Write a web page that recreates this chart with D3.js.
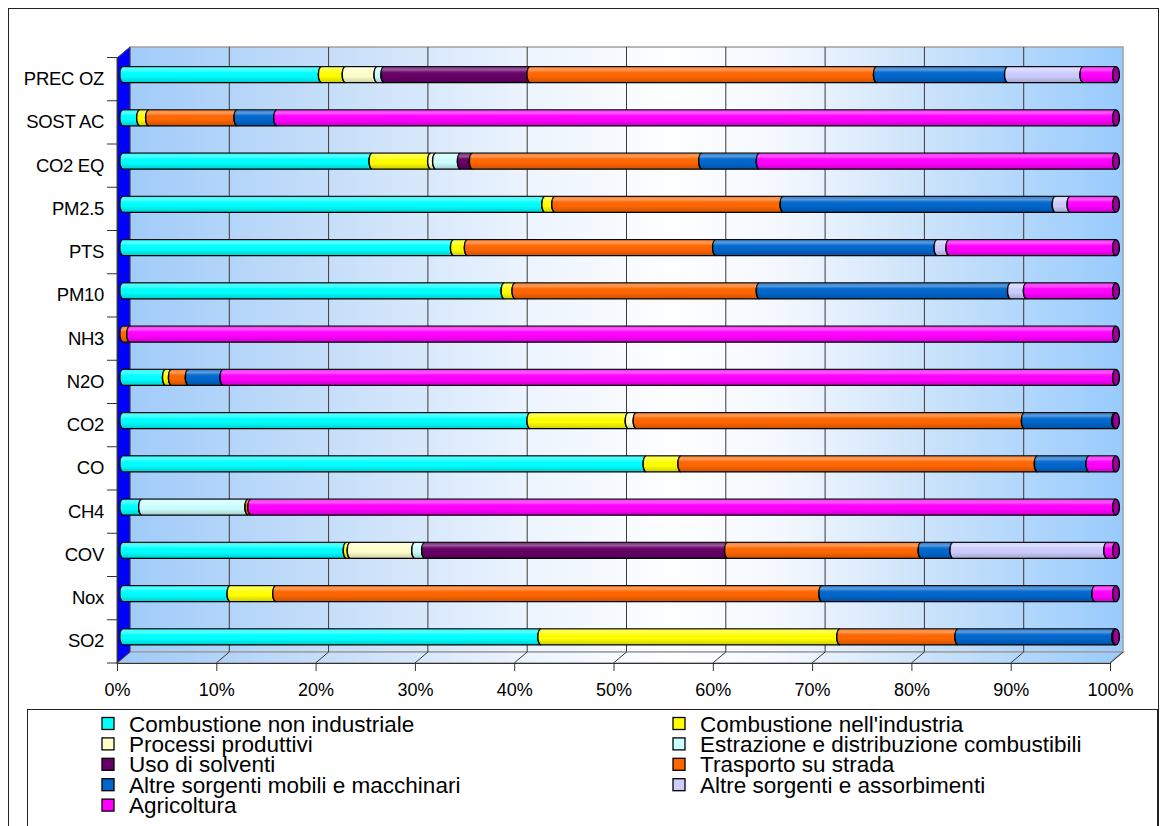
<!DOCTYPE html>
<html><head><meta charset="utf-8">
<script src="https://cdn.jsdelivr.net/npm/d3@7"></script>
<style>body{margin:0;background:#fff} text{font-family:"Liberation Sans",Arial,Helvetica,sans-serif}</style>
</head><body><svg id="c" width="1167" height="826"></svg>
<script>
const categories = ["PREC OZ","SOST AC","CO2 EQ","PM2.5","PTS","PM10","NH3","N2O","CO2","CO","CH4","COV","Nox","SO2"];
const seriesNames = ["Combustione non industriale","Combustione nell'industria","Processi produttivi",
  "Estrazione e distribuzione combustibili","Uso di solventi","Trasporto su strada",
  "Altre sorgenti mobili e macchinari","Altre sorgenti e assorbimenti","Agricoltura"];
const seriesColors = ["#00FFFF","#FFFF00","#FFFFCC","#CCFFFF","#660066","#FF6600","#0066CC","#CCCCFF","#FF00FF"];
// percentages, in category order
const combNonInd  = [20.0, 1.7,25.1,42.5,33.3,38.4, 0.0, 4.3,41.0,52.7, 1.9,22.5,10.8,42.1];
const combInd     = [ 2.4, 0.9, 5.9, 1.0, 1.4, 1.1, 0.0, 0.6, 9.9, 3.5, 0.0, 0.4, 4.6,30.1];
const processi    = [ 3.2, 0.0, 0.5, 0.0, 0.0, 0.0, 0.0, 0.0, 0.8, 0.0, 0.0, 6.5, 0.0, 0.0];
const estrazione  = [ 0.7, 0.0, 2.5, 0.0, 0.0, 0.0, 0.0, 0.0, 0.0, 0.0,10.7, 1.0, 0.0, 0.0];
const solventi    = [14.7, 0.0, 1.2, 0.0, 0.0, 0.0, 0.0, 0.0, 0.0, 0.0, 0.0,30.5, 0.0, 0.0];
const trasporto   = [34.9, 8.9,23.1,23.0,25.0,24.6, 0.7, 1.7,39.1,35.9, 0.3,19.5,55.0,11.9];
const altreMobili = [13.2, 4.0, 5.8,27.4,22.3,25.3, 0.0, 3.5, 9.1, 5.2, 0.0, 3.2,27.5,15.8];
const altreSorg   = [ 7.6, 0.0, 0.0, 1.5, 1.2, 1.6, 0.0, 0.0, 0.0, 0.0, 0.0,15.5, 0.0, 0.0];
const agricoltura = [ 3.3,84.5,35.9, 4.6,16.8, 9.0,99.3,89.9, 0.1, 2.7,87.1, 0.9, 2.1, 0.1];
const tickLabels = ["0%","10%","20%","30%","40%","50%","60%","70%","80%","90%","100%"];

const seriesValues = [combNonInd,combInd,processi,estrazione,solventi,trasporto,altreMobili,altreSorg,agricoltura];
const keys = seriesNames;
const rows = categories.map((c,i)=>{const o={cat:c}; keys.forEach((k,j)=>o[k]=seriesValues[j][i]); return o;});
const stacked = d3.stack().keys(keys).offset(d3.stackOffsetExpand)(rows);

const svg = d3.select("#c");
const defs = svg.append("defs");

// geometry
const DX = 13, DY = -11;           // depth offset front -> back
const x = d3.scaleLinear().domain([0,1]).range([117,1110]);   // front
const y = d3.scaleBand().domain(categories).range([57.5,663]); // front
const bx = v => x(v)+DX, floorY = 663, backBottom = floorY+DY, backTop = 47;
const barDX = 6, barDY = -4.5, barH = 16;

// gradients
const bg = defs.append("linearGradient").attr("id","bg").attr("gradientUnits","userSpaceOnUse")
  .attr("x1",117).attr("x2",1123).attr("y1",0).attr("y2",0);
[[0,"#9ECAF9"],[0.2,"#C4DDF9"],[0.42,"#EEF5FE"],[0.55,"#FDFEFF"],[0.66,"#F4F8FE"],[0.8,"#CCE3FA"],[1,"#98CBFD"]]
  .forEach(s=>bg.append("stop").attr("offset",s[0]).attr("stop-color",s[1]));
const sh = defs.append("linearGradient").attr("id","shade").attr("x1",0).attr("x2",0).attr("y1",0).attr("y2",1);
[[0,"#fff",0.15],[0.2,"#fff",0.35],[0.35,"#fff",0.05],[0.6,"#000",0],[1,"#000",0.2]]
  .forEach(s=>sh.append("stop").attr("offset",s[0]).attr("stop-color",s[1]).attr("stop-opacity",s[2]));

// outer frame
svg.append("rect").attr("x",8.5).attr("y",8.5).attr("width",1150).attr("height",900)
  .attr("fill","#fff").attr("stroke","#222").attr("stroke-width",1);

// back wall
svg.append("rect").attr("x",bx(0)).attr("y",backTop).attr("width",bx(1)-bx(0)).attr("height",backBottom-backTop)
  .attr("fill","url(#bg)").attr("stroke","#A0A0A0").attr("stroke-width",1.5);
// floor
svg.append("path").attr("d",`M${bx(0)},${backBottom}L${bx(1)},${backBottom}L${x(1)},${floorY}L${x(0)},${floorY}Z`)
  .attr("fill","url(#bg)").attr("stroke","#A0A0A0").attr("stroke-width",1.5);
// side wall
svg.append("path").attr("d",`M${x(0)},${backTop-DY}L${bx(0)},${backTop}L${bx(0)},${backBottom}L${x(0)},${floorY}Z`)
  .attr("fill","#0000FF").attr("stroke","#404040").attr("stroke-width",1);

// gridlines
const ticks = d3.range(0,11).map(i=>i/10);
svg.append("g").selectAll("line").data(ticks.slice(1,10)).join("line")
  .attr("x1",d=>bx(d)).attr("x2",d=>bx(d)).attr("y1",backTop).attr("y2",backBottom)
  .attr("stroke","#3a3a3a").attr("stroke-width",1);
svg.append("g").selectAll("line").data(ticks.slice(1,11)).join("line")
  .attr("x1",d=>bx(d)).attr("x2",d=>x(d)).attr("y1",backBottom).attr("y2",floorY)
  .attr("stroke","#3a3a3a").attr("stroke-width",1);

// axes
const xAxis = d3.axisBottom(x).tickValues(ticks).tickFormat((d,i)=>tickLabels[i]).tickSize(8).tickPadding(12);
const gx = svg.append("g").attr("transform",`translate(0,${floorY})`).call(xAxis);
gx.select(".domain").attr("stroke","#333");
gx.selectAll(".tick line").attr("stroke","#333");
gx.selectAll("text").attr("font-size",18).attr("fill","#000").attr("font-family","'Liberation Sans',Arial,sans-serif");

const yAxis = d3.axisLeft(y).tickSize(0).tickPadding(13);
const gy = svg.append("g").attr("transform",`translate(${x(0)},0)`).call(yAxis);
gy.select(".domain").attr("stroke","#333");
gy.selectAll("text").attr("font-size",18.5).attr("fill","#000").attr("letter-spacing","-0.3")
  .attr("font-family","'Liberation Sans',Arial,sans-serif");
// category boundary ticks
svg.append("g").selectAll("line").data(categories.map(c=>y(c)).concat([y.range()[1]])).join("line")
  .attr("x1",x(0)-10).attr("x2",x(0)).attr("y1",d=>d).attr("y2",d=>d).attr("stroke","#333");

// bars
const segPath = (x0,x1,y0,y1)=>{
  const ry=(y1-y0)/2, rx=3.2;
  return `M${x0},${y0}L${x1},${y0}A${rx},${ry} 0 0 0 ${x1},${y1}L${x0},${y1}A${rx},${ry} 0 0 1 ${x0},${y0}Z`;
};
const gb = svg.append("g");
stacked.forEach((layer,j)=>{
  layer.forEach(d=>{
    if(d[1]-d[0] <= 0) return;
    const cat = d.data.cat;
    const yc = y(cat)+y.bandwidth()/2+barDY;
    const y0 = yc-barH/2, y1 = yc+barH/2;
    const x0 = x(d[0])+barDX, x1 = x(d[1])+barDX;
    const p = segPath(x0,x1,y0,y1);
    gb.append("path").attr("d",p).attr("fill",seriesColors[j]).attr("stroke","#000").attr("stroke-width",1.4);
    gb.append("path").attr("d",p).attr("fill","url(#shade)").attr("stroke","none");
  });
});
// end caps
categories.forEach((cat,i)=>{
  const yc = y(cat)+y.bandwidth()/2+barDY;
  let last = 0; seriesValues.forEach((s,j)=>{ if(s[i]>0) last=j; });
  gb.append("ellipse").attr("cx",x(1)+barDX).attr("cy",yc).attr("rx",3.4).attr("ry",barH/2)
    .attr("fill",d3.color(seriesColors[last]).darker(1.4)).attr("stroke","#000").attr("stroke-width",1.4);
});

// legend
svg.append("rect").attr("x",27.5).attr("y",709.5).attr("width",1130).attr("height",200)
  .attr("fill","#fff").attr("stroke","#222").attr("stroke-width",1);
const lg = svg.append("g");
seriesNames.forEach((n,i)=>{
  const col = i%2, row = Math.floor(i/2);
  const tx = col===0 ? 129 : 700;
  const by = 731.5 + row*20.4;
  lg.append("rect").attr("x",tx-27).attr("y",by-14).attr("width",12).attr("height",12)
    .attr("fill",seriesColors[i]).attr("stroke","#000").attr("stroke-width",1.3);
  lg.append("text").attr("x",tx).attr("y",by).attr("font-size",22.5).attr("fill","#000").text(n);
});
</script></body></html>
